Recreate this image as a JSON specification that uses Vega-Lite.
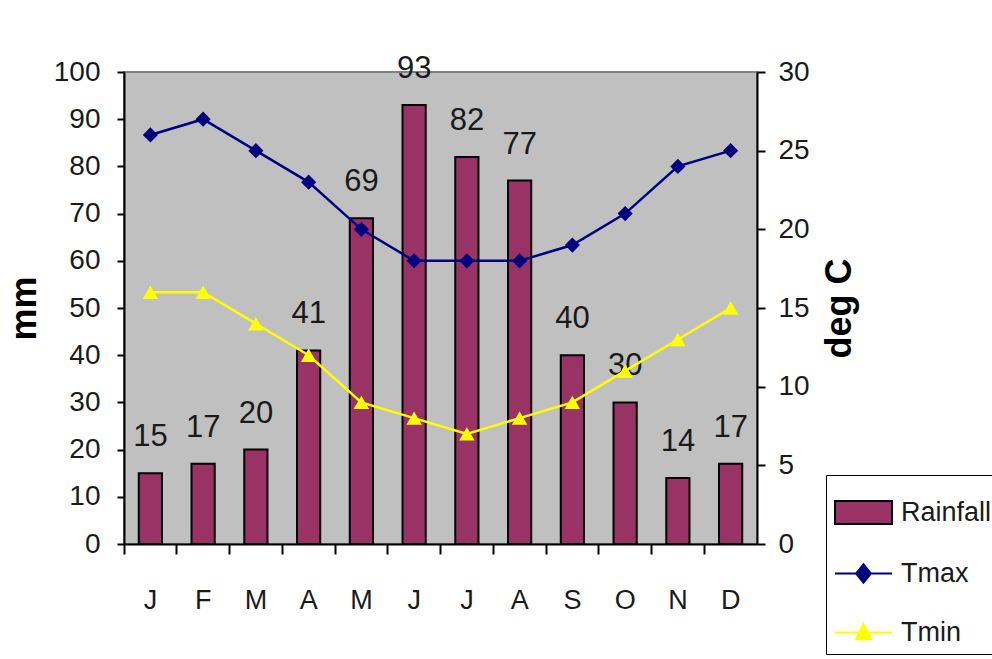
{
  "$schema": "https://vega.github.io/schema/vega-lite/v6.json",
  "width": 633,
  "height": 472,
  "autosize": {"type": "none"},
  "padding": {"left": 124, "top": 72, "right": 235, "bottom": 115},
  "background": "white",
  "config": {
    "font": "Liberation Sans, Arial, sans-serif",
    "view": {"fill": "#C0C0C0", "stroke": "#808080", "strokeWidth": 2}
  },
  "datasets": {
    "rain": [
      {"m": "Jan", "rain": 15}, {"m": "Feb", "rain": 17}, {"m": "Mar", "rain": 20},
      {"m": "Apr", "rain": 41}, {"m": "May", "rain": 69}, {"m": "Jun", "rain": 93},
      {"m": "Jul", "rain": 82}, {"m": "Aug", "rain": 77}, {"m": "Sep", "rain": 40},
      {"m": "Oct", "rain": 30}, {"m": "Nov", "rain": 14}, {"m": "Dec", "rain": 17}
    ],
    "temp": [
      {"series": "Tmax", "m": "Jan", "t": 26}, {"series": "Tmax", "m": "Feb", "t": 27},
      {"series": "Tmax", "m": "Mar", "t": 25}, {"series": "Tmax", "m": "Apr", "t": 23},
      {"series": "Tmax", "m": "May", "t": 20}, {"series": "Tmax", "m": "Jun", "t": 18},
      {"series": "Tmax", "m": "Jul", "t": 18}, {"series": "Tmax", "m": "Aug", "t": 18},
      {"series": "Tmax", "m": "Sep", "t": 19}, {"series": "Tmax", "m": "Oct", "t": 21},
      {"series": "Tmax", "m": "Nov", "t": 24}, {"series": "Tmax", "m": "Dec", "t": 25},
      {"series": "Tmin", "m": "Jan", "t": 16}, {"series": "Tmin", "m": "Feb", "t": 16},
      {"series": "Tmin", "m": "Mar", "t": 14}, {"series": "Tmin", "m": "Apr", "t": 12},
      {"series": "Tmin", "m": "May", "t": 9}, {"series": "Tmin", "m": "Jun", "t": 8},
      {"series": "Tmin", "m": "Jul", "t": 7}, {"series": "Tmin", "m": "Aug", "t": 8},
      {"series": "Tmin", "m": "Sep", "t": 9}, {"series": "Tmin", "m": "Oct", "t": 11},
      {"series": "Tmin", "m": "Nov", "t": 13}, {"series": "Tmin", "m": "Dec", "t": 15}
    ]
  },
  "encoding": {
    "x": {
      "field": "m",
      "type": "nominal",
      "scale": {
        "domain": ["Jan", "Feb", "Mar", "Apr", "May", "Jun", "Jul", "Aug", "Sep", "Oct", "Nov", "Dec"],
        "paddingInner": 0,
        "paddingOuter": 0
      },
      "axis": {
        "title": null,
        "bandPosition": 0,
        "labelExpr": "substring(datum.label, 0, 1)",
        "labelAngle": 0,
        "labelFontSize": 27,
        "labelColor": "#1a1a1a",
        "labelPadding": 33,
        "tickSize": 10,
        "tickWidth": 2,
        "tickColor": "black",
        "domainColor": "black",
        "domainWidth": 2,
        "grid": false
      }
    }
  },
  "layer": [
    {
      "data": {"name": "rain"},
      "encoding": {
        "y": {
          "field": "rain",
          "type": "quantitative",
          "scale": {"domain": [0, 100]},
          "axis": {
            "orient": "left",
            "title": "mm",
            "titleFont": "Liberation Sans",
            "titleFontSize": 36,
            "titleFontWeight": "bold",
            "titleColor": "black",
            "titlePadding": 10,
            "values": [0, 10, 20, 30, 40, 50, 60, 70, 80, 90, 100],
            "labelFontSize": 28,
            "labelColor": "#1a1a1a",
            "labelPadding": 17,
            "tickSize": 7,
            "tickWidth": 2,
            "tickColor": "black",
            "domainColor": "black",
            "domainWidth": 2,
            "grid": false
          }
        }
      },
      "layer": [
        {
          "mark": {"type": "bar", "width": {"band": 0.44}, "fill": "#993366", "stroke": "black", "strokeWidth": 2}
        },
        {
          "mark": {"type": "text", "dy": -27, "baseline": "alphabetic", "fontSize": 31, "color": "#1a1a1a"},
          "encoding": {"text": {"field": "rain", "type": "quantitative"}}
        }
      ]
    },
    {
      "data": {"name": "temp"},
      "encoding": {
        "y": {
          "field": "t",
          "type": "quantitative",
          "scale": {"domain": [0, 30]},
          "axis": {
            "orient": "right",
            "title": "deg C",
            "titleFont": "Liberation Sans",
            "titleFontSize": 36,
            "titleFontWeight": "bold",
            "titleColor": "black",
            "titleAngle": 270,
            "titleBaseline": "top",
            "titlePadding": 13,
            "values": [0, 5, 10, 15, 20, 25, 30],
            "labelFontSize": 28,
            "labelColor": "#1a1a1a",
            "labelPadding": 13,
            "tickSize": 8,
            "tickWidth": 2,
            "tickColor": "black",
            "domainColor": "black",
            "domainWidth": 2,
            "grid": false
          }
        }
      },
      "layer": [
        {
          "transform": [{"filter": "datum.series === 'Tmax'"}],
          "mark": {
            "type": "line",
            "color": "#000080",
            "strokeWidth": 2.5,
            "point": {"shape": "diamond", "filled": true, "size": 230, "color": "#000080", "opacity": 1}
          }
        },
        {
          "transform": [{"filter": "datum.series === 'Tmin'"}],
          "mark": {
            "type": "line",
            "color": "#FFFF00",
            "strokeWidth": 2.5,
            "point": {"shape": "triangle-up", "filled": true, "size": 240, "color": "#FFFF00", "opacity": 1}
          }
        },
        {
          "transform": [{"filter": "false"}],
          "mark": {"type": "point", "filled": true, "opacity": 1, "strokeWidth": 2},
          "encoding": {
            "shape": {
              "field": "series",
              "type": "nominal",
              "scale": {
                "domain": ["Rainfall", "Tmax", "Tmin"],
                "range": [
                  "M-1,-0.4H1V0.4H-1Z",
                  "M-1,0H1M-0.26,0L0,-0.32L0.26,0L0,0.32Z",
                  "M-1,0H1M-0.27,0.24L0,-0.3L0.27,0.24Z"
                ]
              },
              "legend": {
                "title": null,
                "orient": "none",
                "legendX": 702,
                "legendY": 403,
                "fillColor": "white",
                "strokeColor": "black",
                "padding": 8,
                "symbolSize": 3249,
                "symbolStrokeWidth": 2,
                "labelFontSize": 27,
                "labelColor": "#1a1a1a",
                "labelOffset": 8,
                "labelLimit": 0,
                "rowPadding": 16
              }
            },
            "fill": {
              "field": "series",
              "type": "nominal",
              "scale": {"domain": ["Rainfall", "Tmax", "Tmin"], "range": ["#993366", "#000080", "#FFFF00"]}
            },
            "stroke": {
              "field": "series",
              "type": "nominal",
              "scale": {"domain": ["Rainfall", "Tmax", "Tmin"], "range": ["black", "#000080", "#FFFF00"]}
            }
          }
        }
      ]
    }
  ],
  "resolve": {"scale": {"y": "independent"}}
}
